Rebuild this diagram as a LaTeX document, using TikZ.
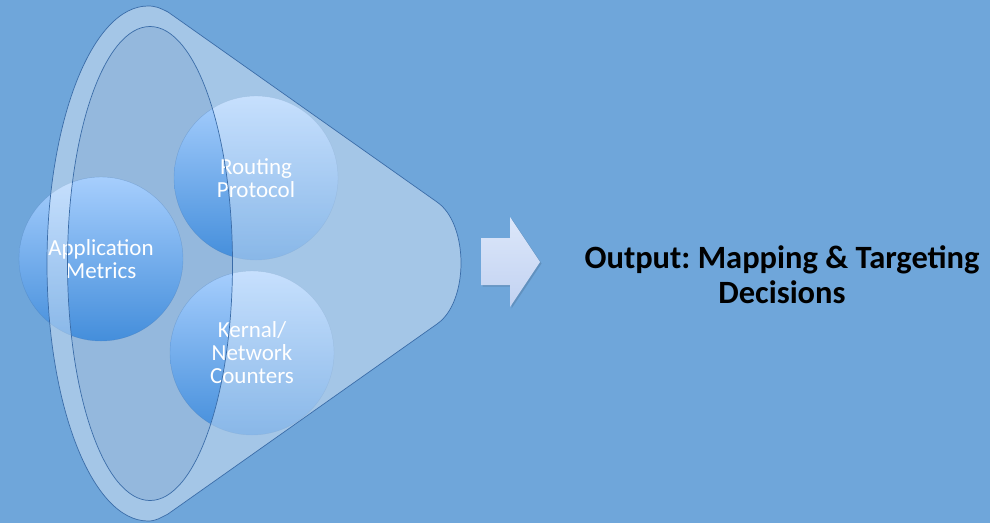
\documentclass[tikz,border=0pt]{standalone}
\usepackage{fontspec}
\setmainfont{Carlito}
\usetikzlibrary{positioning}

\definecolor{bgblue}{RGB}{111,166,218}
\definecolor{innerfill}{RGB}{148,184,221}
\definecolor{rimline}{RGB}{58,108,168}
\definecolor{circtop}{RGB}{166,206,253}
\definecolor{circbot}{RGB}{68,142,219}
\definecolor{arrtop}{RGB}{220,231,250}
\definecolor{arrbot}{RGB}{194,210,241}

\tikzset{
  source/.style={circle, minimum size=164pt, inner sep=0pt,
    top color=circtop, bottom color=circbot,
    draw=rimline, draw opacity=0.3, text=white, align=center,
    font=\fontsize{23}{23}\selectfont},
  rim/.style={draw=rimline, line width=0.7pt},
}

% outline of the funnel (image coordinates, y downwards)
\newcommand{\funnelpath}{(148,6) arc[start angle=270, end angle=90, x radius=101, y radius=257.5]
  .. controls (156,521) and (160,518) .. (168,514) -- (437,324)
  .. controls (469,302) and (469,224) .. (437,202)
  -- (168,12) .. controls (160,8) and (156,6) .. (148,6) -- cycle}

\begin{document}
\frenchspacing
\begin{tikzpicture}[x=1pt,y=-1pt]
    % Background
    \fill[bgblue] (0,0) rectangle (990,523);
    \useasboundingbox (0,0) rectangle (990,523);

    % Mouth of the funnel
    \fill[innerfill] (150,263.5) ellipse[x radius=82.5, y radius=237];

    % Inputs
    \node[source] (appmetrics) at (101,259) {Application\\Metrics};
    \node[source] (routing) at (256,178) {Routing\\Protocol};
    \node[source] (kernal) at (252,353) {Kernal/\\Network\\Counters};

    % Funnel body laid over the inputs
    \fill[white, fill opacity=0.37, even odd rule] \funnelpath
      (150,263.5) ellipse[x radius=82.5, y radius=237];
    \draw[rim] \funnelpath;
    \draw[rim] (150,263.5) ellipse[x radius=82.5, y radius=237];

    % Block arrow
    \fill[black, opacity=0.12] (482.5,239.5) -- (511.5,239.5) -- (511.5,218.5) -- (541.5,263.5)
      -- (511.5,308.5) -- (511.5,286.5) -- (482.5,286.5) -- cycle;
    \shade[top color=arrtop, bottom color=arrbot] (481,238) -- (510,238) -- (510,217) -- (540,262)
      -- (510,307) -- (510,285) -- (481,285) -- cycle;

    % Result
    \node[align=center, font=\fontsize{32.5}{35}\selectfont\bfseries] (output) at (782,275)
      {Output: Mapping \& Targeting\\Decisions};
\end{tikzpicture}
\end{document}
